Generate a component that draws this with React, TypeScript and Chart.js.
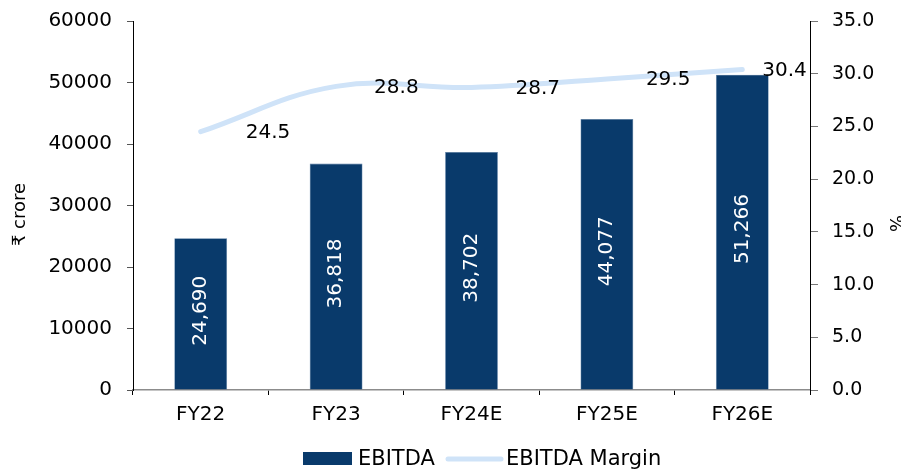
import React, { useEffect, useRef } from "react";
import { Chart, registerables } from "chart.js";

Chart.register(...registerables);

const categories = ["FY22", "FY23", "FY24E", "FY25E", "FY26E"];
const ebitda = [24690, 36818, 38702, 44077, 51266];
const ebitdaMargin = [24.5, 28.8, 28.7, 29.5, 30.4];
const leftTickValues = [0, 10000, 20000, 30000, 40000, 50000, 60000];
const rightTickValues = [0, 5, 10, 15, 20, 25, 30, 35];

const marginLabelDx = [45, 38, 44, 39, 20];

const BAR_COLOR = "#093a6b";
const LINE_COLOR = "#cfe3f8";
const FONT = "'DejaVu Sans', sans-serif";

const overlayPlugin = {
  id: "overlay",
  afterDatasetsDraw(chart: any) {
    const ctx = chart.ctx as CanvasRenderingContext2D;
    const barMeta = chart.getDatasetMeta(0);
    ctx.save();
    ctx.fillStyle = "#ffffff";
    ctx.font = `20px ${FONT}`;
    ctx.textAlign = "center";
    ctx.textBaseline = "middle";
    barMeta.data.forEach((el: any, i: number) => {
      const cy = (el.y + el.base) / 2 - 3;
      ctx.save();
      ctx.translate(el.x, cy);
      ctx.rotate(-Math.PI / 2);
      ctx.fillText(ebitda[i].toLocaleString("en-US"), 0, 0);
      ctx.restore();
    });
    ctx.restore();

    const lineMeta = chart.getDatasetMeta(1);
    ctx.save();
    ctx.fillStyle = "#000000";
    ctx.font = `20px ${FONT}`;
    ctx.textAlign = "left";
    ctx.textBaseline = "middle";
    lineMeta.data.forEach((el: any, i: number) => {
      ctx.fillText(ebitdaMargin[i].toFixed(1), el.x + marginLabelDx[i], el.y + 1);
    });
    ctx.restore();
  },
  afterDraw(chart: any) {
    const ctx = chart.ctx as CanvasRenderingContext2D;
    const area = chart.chartArea;
    ctx.save();
    ctx.fillStyle = "#000000";
    ctx.font = `18px ${FONT}`;
    ctx.textAlign = "center";
    ctx.textBaseline = "middle";
    ctx.save();
    ctx.translate(20, (area.top + area.bottom) / 2 + 9);
    ctx.rotate(-Math.PI / 2);
    ctx.fillText("₹ crore", 0, 0);
    ctx.restore();
    ctx.save();
    ctx.translate(895, (area.top + area.bottom) / 2 + 18);
    ctx.rotate(Math.PI / 2);
    ctx.fillText("%", 0, 0);
    ctx.restore();

    const ly = 459;
    ctx.fillStyle = BAR_COLOR;
    ctx.fillRect(303, ly - 7, 49, 13);
    ctx.fillStyle = "#000000";
    ctx.font = `21px ${FONT}`;
    ctx.textAlign = "left";
    ctx.textBaseline = "middle";
    ctx.fillText("EBITDA", 358, ly + 1);
    ctx.strokeStyle = LINE_COLOR;
    ctx.lineWidth = 5;
    ctx.lineCap = "round";
    ctx.beginPath();
    ctx.moveTo(448, ly);
    ctx.lineTo(501, ly);
    ctx.stroke();
    ctx.fillText("EBITDA Margin", 506, ly + 1);
    ctx.restore();
  },
};

export default function App() {
  const canvasRef = useRef<HTMLCanvasElement | null>(null);

  useEffect(() => {
    document.body.style.margin = "0";
    const canvas = canvasRef.current;
    if (!canvas) return;
    const chart = new Chart(canvas, {
      type: "bar",
      data: {
        labels: categories,
        datasets: [
          {
            type: "bar",
            label: "EBITDA",
            data: ebitda,
            backgroundColor: BAR_COLOR,
            borderColor: "#5a7ea6",
            borderWidth: 0.6,
            barPercentage: 0.39,
            categoryPercentage: 1,
            yAxisID: "y",
            order: 1,
          },
          {
            type: "line",
            label: "EBITDA Margin",
            data: ebitdaMargin,
            borderColor: LINE_COLOR,
            borderWidth: 5,
            borderCapStyle: "round",
            pointRadius: 0,
            tension: 0.4,
            fill: false,
            yAxisID: "y1",
            order: 0,
          },
        ],
      },
      options: {
        responsive: false,
        animation: false,
        layout: { padding: { top: 21, left: 0, right: 0, bottom: 0 } },
        plugins: {
          legend: { display: false },
          tooltip: { enabled: false },
        },
        scales: {
          x: {
            offset: true,
            grid: {
              display: true,
              offset: true,
              drawOnChartArea: false,
              drawTicks: true,
              tickLength: 5,
              color: "#000000",
            },
            border: { display: true, color: "#8c8c8c", width: 1.5 },
            ticks: {
              color: "#000000",
              font: { family: FONT, size: 20 },
              padding: 8,
            },
            afterFit(scale: any) {
              scale.height = 84;
              scale.paddingLeft = 0;
              scale.paddingRight = 0;
            },
          },
          y: {
            position: "left",
            min: 0,
            max: 60000,
            afterBuildTicks(scale: any) {
              scale.ticks = leftTickValues.map((v) => ({ value: v }));
            },
            grid: {
              display: true,
              drawOnChartArea: false,
              drawTicks: true,
              tickLength: 6,
              color: "#555555",
            },
            border: { display: true, color: "#000000" },
            ticks: {
              color: "#000000",
              font: { family: FONT, size: 20 },
              padding: 15,
              callback: (v: any) => String(v),
            },
            afterFit(scale: any) {
              scale.width = 133;
              scale.paddingTop = 0;
              scale.paddingBottom = 0;
            },
          },
          y1: {
            position: "right",
            min: 0,
            max: 35,
            afterBuildTicks(scale: any) {
              scale.ticks = rightTickValues.map((v) => ({ value: v }));
            },
            grid: {
              display: true,
              drawOnChartArea: false,
              drawTicks: true,
              tickLength: 8,
              color: "#777777",
            },
            border: { display: true, color: "#000000" },
            ticks: {
              color: "#000000",
              font: { family: FONT, size: 19 },
              padding: 14,
              callback: (v: any) => Number(v).toFixed(1),
            },
            afterFit(scale: any) {
              scale.width = 91;
              scale.paddingTop = 0;
              scale.paddingBottom = 0;
            },
          },
        },
      },
      plugins: [overlayPlugin],
    } as any);
    return () => chart.destroy();
  }, []);

  return (
    <div style={{ width: 901, height: 474 }}>
      <canvas ref={canvasRef} width={901} height={474} style={{ display: "block" }} />
    </div>
  );
}
